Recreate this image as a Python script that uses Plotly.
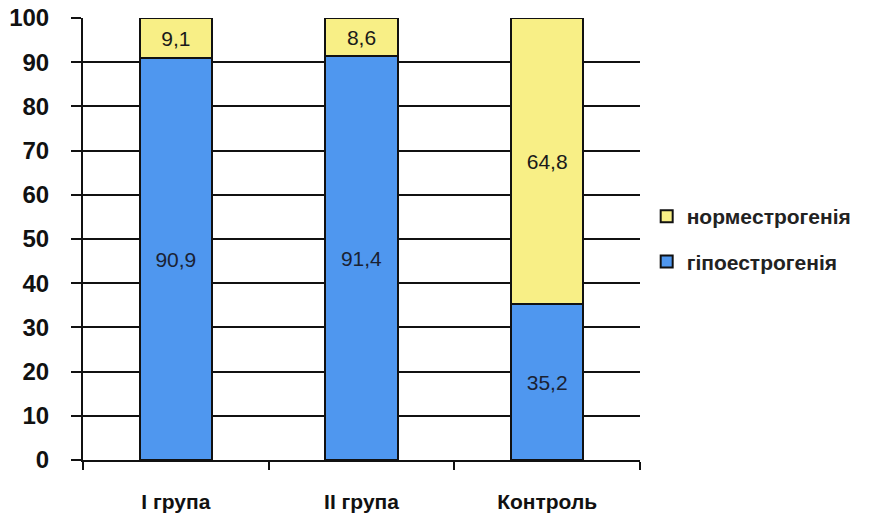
import plotly.graph_objects as go

# Share of patients by oestrogen status, per group (%)
categories = ["I група", "II група", "Контроль"]
hypo_values = [90.9, 91.4, 35.2]
norm_values = [9.1, 8.6, 64.8]
hypo_name = "гіпоестрогенія"
norm_name = "нормеcтрогенія"
y_ticks = [0, 10, 20, 30, 40, 50, 60, 70, 80, 90, 100]

FONT = "Liberation Sans"
BLUE = "#4f97ef"
YELLOW = "#f8ef86"


def fmt(v):
    return f"{v:.1f}".replace(".", ",")


fig = go.Figure()
fig.add_trace(go.Bar(
    x=categories, y=hypo_values, name=hypo_name,
    marker=dict(color=BLUE, line=dict(color="#111111", width=2)),
    text=[fmt(v) for v in hypo_values], textposition="inside",
    insidetextanchor="middle",
    textfont=dict(family=FONT, size=21, color="#1a2233"),
    legendgroup="a", legendrank=2, width=0.39,
))
fig.add_trace(go.Bar(
    x=categories, y=norm_values, name=norm_name,
    marker=dict(color=YELLOW, line=dict(color="#111111", width=2)),
    text=[fmt(v) for v in norm_values], textposition="inside",
    insidetextanchor="middle",
    textfont=dict(family=FONT, size=21, color="#1a1a1a"),
    legendgroup="b", legendrank=1, width=0.39,
))

fig.update_layout(
    barmode="stack",
    width=877, height=518,
    margin=dict(l=83, r=237, t=18, b=58, autoexpand=False),
    paper_bgcolor="white", plot_bgcolor="white",
    font=dict(family=FONT, color="#111111"),
    showlegend=True,
    legend=dict(
        x=1.012, xanchor="left", y=0.50, yanchor="middle",
        traceorder="grouped", tracegroupgap=15,
        font=dict(family=FONT, size=21, color="#222222", weight="bold"),
        itemwidth=30,
    ),
)

fig.update_xaxes(
    type="category", automargin=False,
    showline=True, linecolor="#111111", linewidth=2,
    ticks="outside", tickson="boundaries", ticklen=8, tickwidth=2,
    tickcolor="#111111",
    tickfont=dict(family=FONT, size=21, color="#111111", weight="bold"),
    ticklabelstandoff=22,
    showgrid=False,
)
fig.update_yaxes(
    range=[0, 100], tickvals=y_ticks, automargin=False,
    showline=True, linecolor="#111111", linewidth=2,
    ticks="outside", ticklen=10, tickwidth=2, tickcolor="#111111",
    tickfont=dict(family=FONT, size=24, color="#111111", weight="bold"),
    ticklabelstandoff=17,
    showgrid=True, gridcolor="#111111", gridwidth=2,
    zeroline=False,
)

fig.write_html("out.html")
